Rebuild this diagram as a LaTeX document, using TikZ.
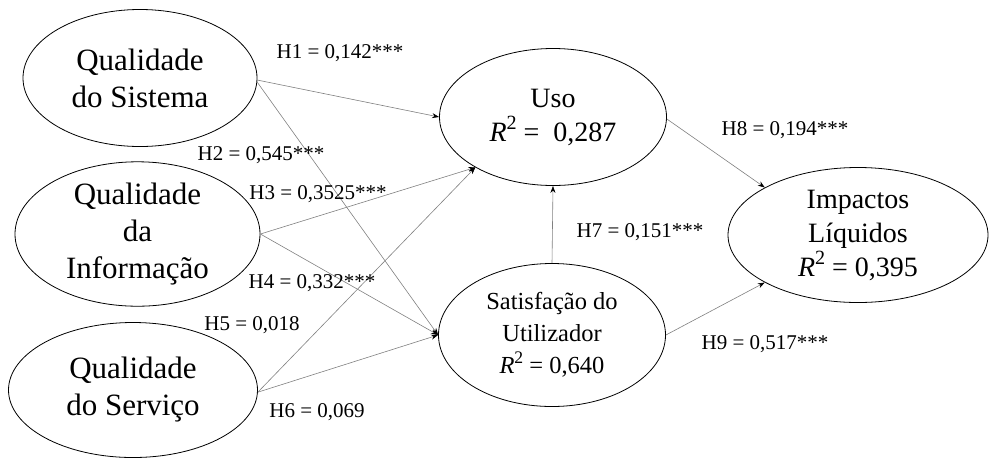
\documentclass[tikz,border=0pt]{standalone}
\usepackage{fontspec}
\usepackage{graphicx}
\setmainfont{Liberation Serif}
\usetikzlibrary{shapes.geometric,arrows.meta}
\tikzset{
  construct/.style={draw=black, line width=0.8pt, ellipse, inner sep=0pt, align=center},
  path/.style={draw=black!50, line width=0.6pt, -{Stealth[black,length=7pt,width=5pt]}},
  hlabel/.style={font=\fontsize{21}{24}\selectfont, inner sep=0pt},
  big/.style={font=\fontsize{31}{37}\selectfont},
  mid/.style={font=\fontsize{28}{34}\selectfont},
  small/.style={font=\fontsize{24.5}{32}\selectfont}
}
\newcommand{\rsq}[1]{\textit{R}\raisebox{0.4em}{\scalebox{0.72}{2}} =#1}
\begin{document}
\begin{tikzpicture}[x=1pt,y=-1pt]
\useasboundingbox (0,0) rectangle (990,459);
\node[construct, big, minimum width=234pt, minimum height=137pt] (qs) at (140,78) {Qualidade\\do Sistema};
\node[construct, big, minimum width=245pt, minimum height=135pt] (qi) at (137.5,234) {Qualidade\\da\\Informação};
\node[construct, big, minimum width=249pt, minimum height=135pt] (qsv) at (133,390) {Qualidade\\do Serviço};
\node[construct, mid, minimum width=227pt, minimum height=137pt] (uso) at (553,117) {Uso\\\rsq{\ \ 0,287}};
\node[construct, small, minimum width=227pt, minimum height=143pt] (sat) at (552,335) {Satisfação do\\Utilizador\\\rsq{ 0,640}};
\node[construct, mid, minimum width=260pt, minimum height=135pt] (imp) at (858,235) {Impactos\\Líquidos\\\rsq{ 0,395}};

\draw[path] (qs.-1) -- (uso.west);
\draw[path] (qs.-2) -- (sat.west);
\draw[path] (qi.east) -- (uso.213);
\draw[path] (qi.east) -- (sat.west);
\draw[path] (qsv.-1) -- (uso.213);
\draw[path] (qsv.-1) -- (sat.west);
\draw[path] (sat.north) -- (uso.south);
\draw[path] (uso.-1) -- (imp.153);
\draw[path] (sat.east) -- (imp.207);

\node[hlabel] (h1) at (340,53) {H1 = 0,142***};
\node[hlabel] (h2) at (261,155) {H2 = 0,545***};
\node[hlabel] (h3) at (318,194) {H3 = 0,3525***};
\node[hlabel] (h4) at (312,283) {H4 = 0,332***};
\node[hlabel] (h5) at (252,325) {H5 = 0,018};
\node[hlabel] (h6) at (317,412) {H6 = 0,069};
\node[hlabel] (h7) at (640,232) {H7 = 0,151***};
\node[hlabel] (h8) at (785,130) {H8 = 0,194***};
\node[hlabel] (h9) at (765,344) {H9 = 0,517***};
\end{tikzpicture}
\end{document}
